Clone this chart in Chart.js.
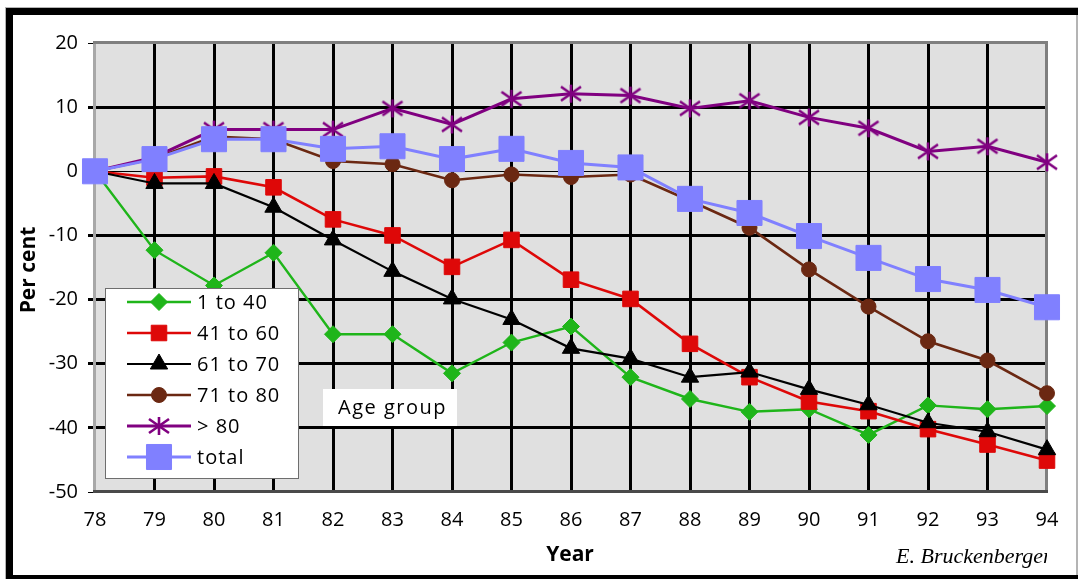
<!DOCTYPE html>
<html>
<head>
<meta charset="utf-8">
<style>
  html, body { margin: 0; padding: 0; background: #fff; }
  canvas { display: block; }
</style>
<script src="https://cdn.jsdelivr.net/npm/chart.js@4.4.1/dist/chart.umd.min.js"></script>
</head>
<body>
<canvas id="chart" width="1078" height="579"></canvas>
<script>
// Change in hospital days by age group, per cent relative to 1978
const years = ['78', '79', '80', '81', '82', '83', '84', '85', '86', '87', '88', '89', '90', '91', '92', '93', '94'];
const seriesNames = ['1 to 40', '41 to 60', '61 to 70', '71 to 80', '> 80', 'total'];
const age1to40  = [0, -12.3, -17.8, -12.7, -25.4, -25.4, -31.5, -26.7, -24.2, -32.1, -35.5, -37.5, -37.1, -41.1, -36.5, -37.1, -36.6];
const age41to60 = [0, -1.0, -0.8, -2.5, -7.5, -10.0, -14.9, -10.7, -16.9, -19.9, -26.9, -32.1, -35.9, -37.4, -40.2, -42.6, -45.1];
const age61to70 = [0, -1.9, -1.9, -5.6, -10.7, -15.6, -19.9, -23.1, -27.6, -29.2, -32.1, -31.3, -34.0, -36.4, -39.2, -40.6, -43.4];
const age71to80 = [0, 2.0, 5.4, 5.0, 1.6, 1.1, -1.4, -0.5, -0.9, -0.5, -4.6, -8.8, -15.3, -21.1, -26.5, -29.5, -34.6];
const over80    = [0, 2.2, 6.5, 6.5, 6.5, 9.8, 7.3, 11.3, 12.1, 11.8, 9.8, 11.0, 8.4, 6.7, 3.1, 3.9, 1.4];
const total     = [0, 1.9, 5.0, 5.0, 3.5, 3.9, 1.9, 3.5, 1.3, 0.6, -4.3, -6.5, -10.1, -13.5, -16.8, -18.5, -21.2];
const yMin = -50, yMax = 20, yStep = 10;

const FONT = "'Open Sans', 'Noto Sans', sans-serif";

// asterisk marker: vertical stroke plus a diagonal cross
function makeStar(color) {
  const c = document.createElement('canvas');
  c.width = 24; c.height = 22;
  const g = c.getContext('2d');
  g.strokeStyle = color;
  g.lineWidth = 2.6;
  g.lineCap = 'butt';
  g.beginPath();
  g.moveTo(12, 2); g.lineTo(12, 20);
  g.moveTo(2, 4); g.lineTo(22, 18);
  g.moveTo(2, 18); g.lineTo(22, 4);
  g.stroke();
  return c;
}
const starImg = makeStar('#800080');

function ds(label, data, color, lineW, style, radius, order) {
  return {
    label, data,
    borderColor: color,
    backgroundColor: color,
    borderWidth: lineW,
    pointStyle: style,
    pointRadius: radius,
    pointHoverRadius: radius,
    pointBorderWidth: 1,
    pointBorderColor: color,
    pointBackgroundColor: color,
    tension: 0,
    order
  };
}

const datasets = [
  ds(seriesNames[0], age1to40,  '#1fb51a', 2.4, 'rectRot', 8.5, 6),
  ds(seriesNames[1], age41to60, '#de0808', 2.6, 'rect', 11, 5),
  ds(seriesNames[2], age61to70, '#000000', 2.2, 'triangle', 10, 4),
  ds(seriesNames[3], age71to80, '#6b2812', 2.6, 'circle', 7.5, 3),
  ds(seriesNames[4], over80,    '#800080', 3, starImg, 11, 2),
  ds(seriesNames[5], total,     '#8080ff', 3, 'rect', 17.7, 1)
];

const framePlugin = {
  id: 'frame',
  beforeDraw(chart) {
    const { ctx, chartArea: a } = chart;
    ctx.save();
    ctx.fillStyle = '#fff';
    ctx.fillRect(0, 0, chart.width, chart.height);
    // outer frame
    ctx.fillStyle = '#b4b4b4';
    ctx.fillRect(5, 7, 1073, 1);
    ctx.fillRect(5, 7, 1, 572);
    ctx.fillRect(1076, 14, 2, 565);
    ctx.fillStyle = '#000';
    ctx.fillRect(6, 8, 1072, 7);
    ctx.fillRect(6, 8, 7, 571);
    ctx.fillRect(6, 575, 1072, 4);
    // plot background
    ctx.fillStyle = '#e0e0e0';
    ctx.fillRect(a.left, a.top, a.right - a.left, a.bottom - a.top);
    ctx.restore();
  },
  beforeDatasetsDraw(chart) {
    const { ctx, chartArea: a } = chart;
    ctx.save();
    ctx.fillStyle = '#a8a8a8';
    ctx.fillRect(a.left - 2, a.top - 1, 3, a.bottom - a.top + 2);
    ctx.fillStyle = '#7f7f7f';
    ctx.fillRect(a.left - 2, a.top - 2, a.right - a.left + 3, 3);
    ctx.fillRect(a.right - 2, a.top - 2, 3, a.bottom - a.top + 3);
    ctx.fillStyle = '#4a4a4a';
    ctx.fillRect(a.left - 2, a.bottom - 2, a.right - a.left + 3, 3);
    ctx.restore();
  },
  afterDraw(chart) {
    const { ctx } = chart;
    const H = Chart.helpers;
    ctx.save();

    // legend box
    const lx = 105, ly = 288, lw = 194, lh = 191;
    ctx.fillStyle = '#fff';
    ctx.fillRect(lx, ly, lw, lh);
    ctx.strokeStyle = '#6e6e6e';
    ctx.lineWidth = 1;
    ctx.strokeRect(lx + 0.5, ly + 0.5, lw - 1, lh - 1);
    ctx.font = '20px ' + FONT;
    ctx.textBaseline = 'middle';
    ctx.textAlign = 'left';
    ctx.letterSpacing = '1px';
    chart.data.datasets.forEach((d, i) => {
      const y = 302 + i * 31;
      ctx.strokeStyle = d.borderColor;
      ctx.lineWidth = d.borderWidth;
      ctx.beginPath();
      ctx.moveTo(127, y);
      ctx.lineTo(191, y);
      ctx.stroke();
      ctx.fillStyle = d.pointBackgroundColor;
      ctx.strokeStyle = d.pointBorderColor;
      ctx.lineWidth = 1;
      H.drawPoint(ctx, { pointStyle: d.pointStyle, radius: d.pointRadius, rotation: 0, borderWidth: 1 }, 159, y);
      ctx.fillStyle = '#000';
      ctx.fillText(d.label, 197, y + 1);
    });

    // series group caption
    ctx.fillStyle = '#fff';
    ctx.fillRect(323, 389, 134, 37);
    ctx.fillStyle = '#000';
    ctx.letterSpacing = '1.5px';
    ctx.textBaseline = 'alphabetic';
    ctx.fillText('Age group', 338, 414);
    ctx.letterSpacing = '0px';

    // axis titles
    ctx.font = 'bold 21px ' + FONT;
    ctx.textAlign = 'center';
    ctx.textBaseline = 'middle';
    ctx.fillText('Year', 570, 555);
    ctx.save();
    ctx.translate(29, 270);
    ctx.rotate(-Math.PI / 2);
    ctx.fillText('Per cent', 0, 0);
    ctx.restore();

    // author credit, cut off at the plot's right edge
    ctx.save();
    ctx.beginPath();
    ctx.rect(0, 0, 1047, chart.height);
    ctx.clip();
    ctx.font = "italic 22px 'Liberation Serif', 'DejaVu Serif', serif";
    ctx.textAlign = 'left';
    ctx.textBaseline = 'alphabetic';
    ctx.fillText('E. Bruckenberger', 896, 563);
    ctx.restore();

    ctx.restore();
  }
};

new Chart(document.getElementById('chart'), {
  type: 'line',
  data: { labels: years, datasets },
  options: {
    responsive: false,
    animation: false,
    devicePixelRatio: 1,
    layout: { padding: { top: 43, right: 31, bottom: 0, left: 0 } },
    plugins: { legend: { display: false }, tooltip: { enabled: false } },
    scales: {
      x: {
        type: 'category',
        offset: false,
        afterFit(s) { s.height = 87; },
        border: { display: false },
        grid: {
          drawTicks: false,
          color: (c) => (c.index === 0 || c.index === years.length - 1) ? 'rgba(0,0,0,0)' : '#000',
          lineWidth: 3
        },
        ticks: { color: '#000', font: { family: FONT, size: 20 }, padding: 16, maxRotation: 0, autoSkip: false }
      },
      y: {
        min: yMin, max: yMax,
        afterFit(s) { s.width = 95; },
        border: { display: false },
        grid: {
          tickLength: 7,
          tickColor: '#000',
          color: (c) => (c.tick && (c.tick.value === yMin || c.tick.value === yMax)) ? 'rgba(0,0,0,0)' : '#000',
          lineWidth: (c) => (c.tick && c.tick.value === 0) ? 1 : 3,
          tickWidth: (c) => (c.tick && (c.tick.value === 0 || c.tick.value === yMin || c.tick.value === yMax)) ? 1 : 3
        },
        ticks: { stepSize: yStep, color: '#000', font: { family: FONT, size: 20 }, padding: 10 }
      }
    }
  },
  plugins: [framePlugin]
});
</script>
</body>
</html>
